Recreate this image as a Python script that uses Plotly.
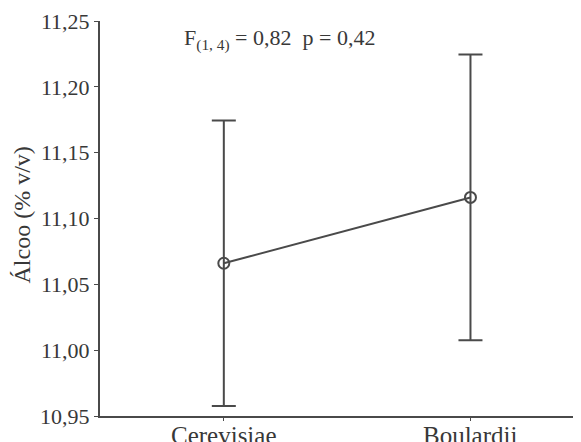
import plotly.graph_objects as go

categories = ["Cerevisiae", "Boulardii"]
means = [11.066, 11.116]
errors = [0.1085, 0.1085]
y_ticks = [10.95, 11.00, 11.05, 11.10, 11.15, 11.20, 11.25]

c = "#4a4a4a"
tc = "#383838"
font_family = "Liberation Serif, Times New Roman, serif"

fig = go.Figure()
xs = list(range(len(categories)))
fig.add_trace(go.Scatter(
    x=xs, y=means,
    mode="lines+markers",
    line=dict(color=c, width=2),
    marker=dict(symbol="circle-open", size=11, color=c, line=dict(width=2, color=c)),
    error_y=dict(type="data", array=errors, visible=True, color=c, thickness=2, width=12),
    showlegend=False,
))

# x category labels
for xi, cat in zip(xs, categories):
    fig.add_annotation(
        x=xi, xref="x", y=0, yref="paper", xanchor="center", yanchor="top",
        yshift=-4, text=cat, showarrow=False,
        font=dict(family=font_family, size=25, color=tc),
    )

# y axis title
fig.add_annotation(
    x=-0.163, xref="paper", y=0.51, yref="paper", xanchor="center", yanchor="middle",
    text="Álcoo (% v/v)", textangle=-90, showarrow=False,
    font=dict(family=font_family, size=24, color=tc),
)

fig.add_annotation(
    x=0.171, xref="paper", y=0.952, yref="paper", xanchor="left", yanchor="middle",
    text="F<sub>(1, 4)</sub> = 0,82  p = 0,42", showarrow=False,
    font=dict(family=font_family, size=22, color=tc),
)

# page body has an 8px margin, so the figure is sized to fill the rest of the window
fig.update_layout(
    width=573, height=434,
    margin=dict(l=92, r=2, t=13, b=26),
    paper_bgcolor="white", plot_bgcolor="white",
    separators=",.",
    font=dict(family=font_family, size=22, color=tc),
    xaxis=dict(
        range=[-0.502, 1.44], tickvals=xs, showticklabels=False,
        showgrid=False, zeroline=False, showline=True, linecolor=c, linewidth=2,
        ticks="outside", ticklen=3, tickcolor=c, tickwidth=1, automargin=False,
    ),
    yaxis=dict(
        range=[10.95, 11.25], tickvals=y_ticks, tickformat=".2f",
        showgrid=False, zeroline=False, showline=True, linecolor=c, linewidth=2,
        ticks="outside", ticklen=4, tickcolor=c, tickwidth=1, automargin=False,
        tickfont=dict(family=font_family, size=22, color=tc),
    ),
)

fig.write_html("out.html")
